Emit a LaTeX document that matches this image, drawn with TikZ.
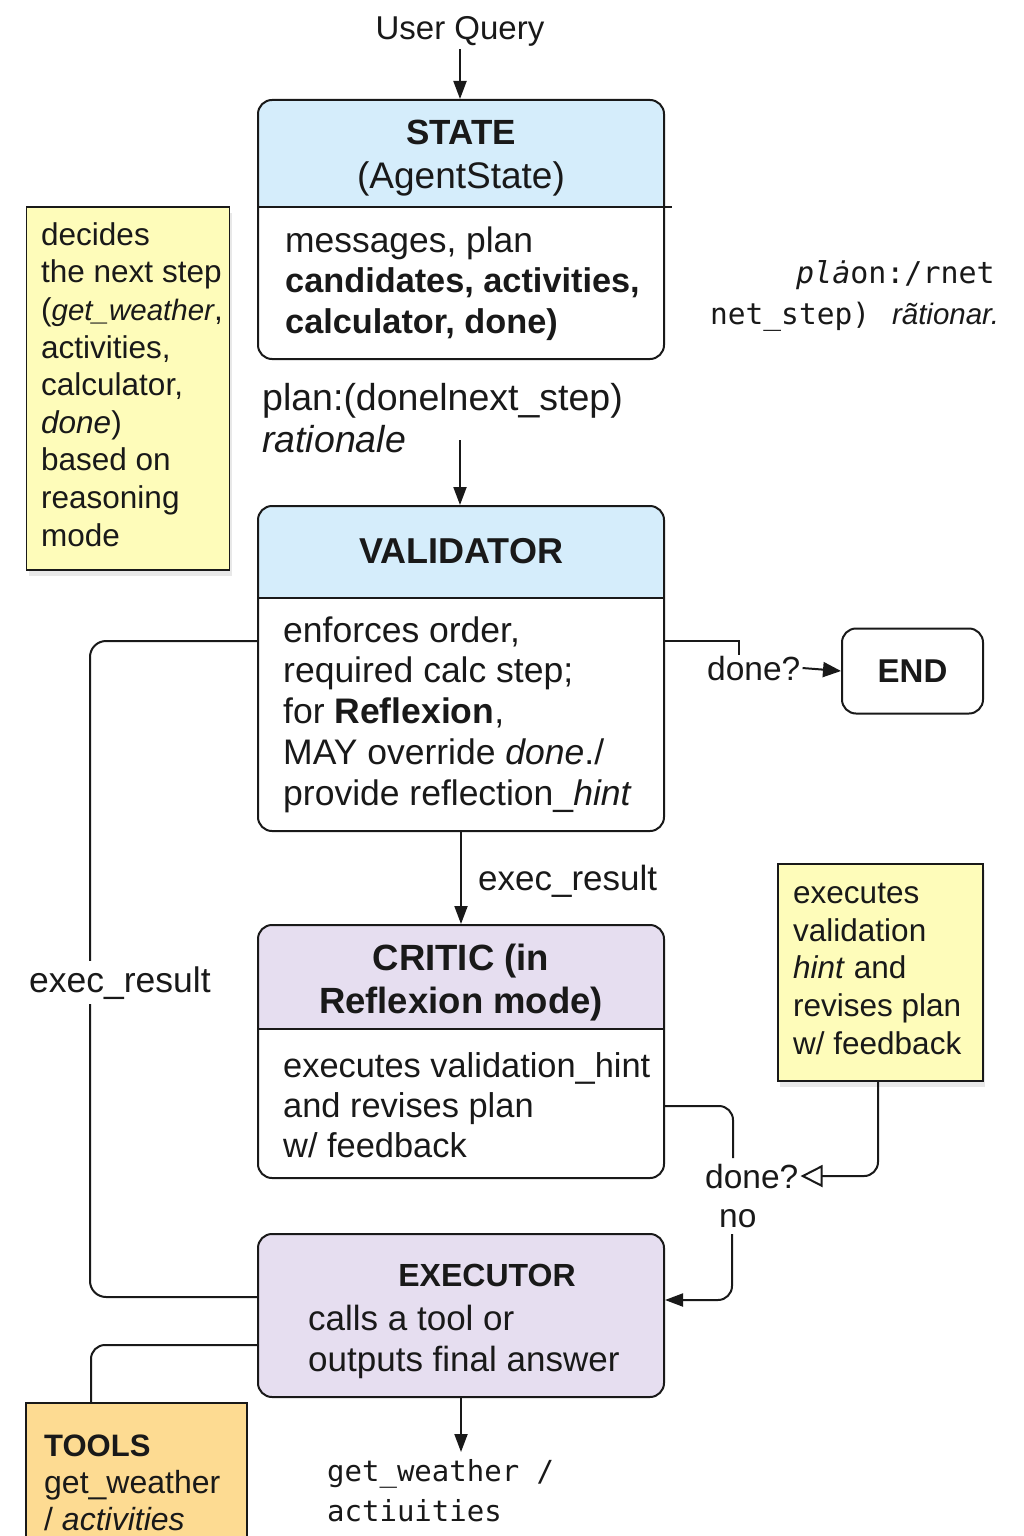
\documentclass[tikz,border=0pt]{standalone}
\usepackage{fontspec}
\setmainfont{Liberation Sans}
\setmonofont{DejaVu Sans Mono}
\usetikzlibrary{arrows.meta,shadows}
\definecolor{hdrblue}{RGB}{213,237,251}
\definecolor{lav}{RGB}{230,222,240}
\definecolor{noteyel}{RGB}{254,252,186}
\definecolor{toolor}{RGB}{253,219,146}
\definecolor{ink}{RGB}{25,25,25}
\newcommand\lnstrut[1]{\rule{0pt}{#1pt}}
\begin{document}
\begin{tikzpicture}[x=1pt,y=-1pt,
  box/.style={draw=ink,line width=2pt,rounded corners=14pt,minimum width=406pt,inner sep=0pt},
  note/.style={draw=ink,line width=1.5pt,fill=noteyel,inner sep=0pt,
    drop shadow={shadow xshift=2pt,shadow yshift=-6pt,opacity=0.09,fill=black}},
  line/.style={draw=ink,line width=2pt},
  arr/.style={line,-{Triangle[length=18pt,width=13pt]}},
  openarr/.style={line,-{Triangle[open,length=22pt,width=22pt,line width=2pt]}},
  txt/.style={inner sep=0pt,anchor=north west,align=left,text=ink},
  lbl/.style={inner sep=2pt,anchor=base west,text=ink},
  ttl/.style={inner sep=0pt,anchor=base,text=ink,font={\bfseries\fontsize{35}{40}\selectfont}},
  notefont/.style={font={\fontsize{31.5}{37.6}\selectfont}}
]
\fill[white] (0,0) rectangle (1024,1536);
\useasboundingbox (0,0) rectangle (1024,1536);

% header fills
\begin{scope}
  \clip[rounded corners=14pt] (258,100) rectangle (664,359);
  \fill[hdrblue] (258,100) rectangle (664,207);
\end{scope}
\begin{scope}
  \clip[rounded corners=14pt] (258,506) rectangle (664,831);
  \fill[hdrblue] (258,506) rectangle (664,598);
\end{scope}
\begin{scope}
  \clip[rounded corners=14pt] (258,925) rectangle (664,1178);
  \fill[lav] (258,925) rectangle (664,1029);
\end{scope}

% boxes
\node[box,minimum height=259pt] (state) at (461,229.5) {};
\node[box,minimum height=325pt] (validator) at (461,668.5) {};
\node[box,minimum height=253pt] (critic) at (461,1051.5) {};
\node[box,fill=lav,minimum height=163pt] (executor) at (461,1315.5) {};
\node[box,minimum width=141pt,minimum height=85pt,text=ink,
      font={\bfseries\fontsize{33}{36}\selectfont}] (endn) at (912.5,671) {END};
\node[note,minimum width=203pt,minimum height=363pt] (note1) at (128,388.5) {};
\node[note,minimum width=205pt,minimum height=217pt] (note2) at (880.5,972.5) {};
\node[draw=ink,line width=1.5pt,fill=toolor,inner sep=0pt,minimum width=221pt,minimum height=160pt] (tools) at (136.5,1483) {};

% dividers
\draw[line] (258,207) -- (672,207);
\draw[line] (258,598) -- (664,598);
\draw[line] (258,1029) -- (664,1029);

% box texts
\node[ttl] (stT1) at (461,145) {STATE};
\node[ttl,font={\fontsize{37}{40}\selectfont}] (stT2) at (461,188) {(AgentState)};
\node[txt,font={\fontsize{35.4}{40.7}\selectfont}] (stB) at (285,222) {\lnstrut{30}messages, plan\\
  {\bfseries\fontsize{34.3}{40.7}\selectfont candidates, activities,}\\
  {\bfseries\fontsize{34.3}{40.7}\selectfont calculator, done)}};

\node[ttl,font={\bfseries\fontsize{36}{40}\selectfont}] (vT) at (461,563) {VALIDATOR};
\node[txt,font={\fontsize{35.5}{40.7}\selectfont}] (vB) at (283,612) {\lnstrut{30}enforces order,\\
  required calc step;\\
  for \textbf{Reflexion},\\
  MAY override \textit{done}./\\
  provide reflection\_\textit{hint}};

\node[ttl,font={\bfseries\fontsize{36.5}{40}\selectfont}] (cT1) at (461,970) {CRITIC (in};
\node[ttl,font={\bfseries\fontsize{36.5}{40}\selectfont}] (cT2) at (461,1013) {Reflexion mode)};
\node[txt,font={\fontsize{34.4}{40}\selectfont}] (cB) at (283,1047) {\lnstrut{30}executes validation\_hint\\
  and revises plan\\
  w/ feedback};

\node[ttl,font={\bfseries\fontsize{32}{40}\selectfont}] (eT) at (487,1286) {EXECUTOR};
\node[txt,font={\fontsize{35}{41}\selectfont}] (eB) at (308,1300) {\lnstrut{30}calls a tool or\\
  outputs final answer};

\node[txt,notefont] (n1T) at (41,217) {\lnstrut{28}decides\\
  the next step\\
  ({\fontsize{29.5}{37.6}\selectfont\itshape get\_weather},\\
  activities,\\
  calculator,\\
  \textit{done})\\
  based on\\
  reasoning\\
  mode};

\node[txt,font={\fontsize{31.5}{37.8}\selectfont}] (n2T) at (793,875) {\lnstrut{28}executes\\
  validation\\
  \textit{hint} and\\
  revises plan\\
  w/ feedback};

\node[txt,font={\fontsize{32}{37}\selectfont}] (tT) at (44,1428) {\lnstrut{28}{\bfseries\fontsize{31}{37}\selectfont TOOLS}\\
  get\_weather\\
  / \textit{activities}};

% free labels
\node[lbl,anchor=base,font={\fontsize{33}{38}\selectfont}] (uq) at (460,40) {User Query};
\node[txt,font={\fontsize{37.5}{42}\selectfont}] (pl) at (262,380) {\lnstrut{30}plan:(donelnext\_step)\\
  \textit{rationale}};
\node[lbl,anchor=base east,font={\fontsize{30}{36}\selectfont}] (rt1) at (997,283)
  {{\ttfamily\itshape plȧ}{\ttfamily on:/rnet}};
\node[lbl,font={\fontsize{29.5}{36}\selectfont}] (rt2) at (708,324)
  {{\ttfamily net\_step)}\hspace{22pt}\textit{rãtionar.}};
\node[lbl,font={\fontsize{35}{40}\selectfont}] (er1) at (476,890) {exec\_result};
\node[lbl,font={\fontsize{33.5}{40}\selectfont}] (d1) at (705,680) {done?};
\node[lbl,font={\fontsize{33.5}{40}\selectfont}] (d2) at (703,1188) {done?};
\node[lbl,font={\fontsize{33.5}{40}\selectfont}] (nno) at (717,1227) {no};
\node[txt,font={\ttfamily\fontsize{29}{40}\selectfont}] (gl) at (327,1455) {\lnstrut{26}get\_weather /\\
  actiuities};

\coordinate (planEnd) at (460,440);
\coordinate (noTop) at (732,1234);
\coordinate (gwEnd) at (461,1452);

% connectors
\draw[arr] (uq.south) -- (uq.south |- state.north);
\draw[arr] (planEnd) -- (planEnd |- validator.north);
\draw[arr] (validator.south) -- (critic.north);
\draw[arr] (executor.south) -- (gwEnd);

% left loop executor <-> validator
\draw[line,rounded corners=16pt] ([yshift=27.5pt]validator.west) -- ++(-167,0) |- ([yshift=18.5pt]executor.west);
\node[lbl,fill=white,inner xsep=1pt,inner ysep=5pt,font={\fontsize{35.5}{40}\selectfont}] (er2) at (28,992) {exec\_result};

% validator -> done? -> END
\draw[line] ([yshift=27.5pt]validator.east) -- ++(74,0) -- ++(0,14);
\draw[line,-{Triangle[length=18pt,width=15pt]}] (d1.east) -- (endn.west);

% critic -> done? / no -> executor
\draw[line,rounded corners=14pt] ([yshift=-54.5pt]critic.east) -- ++(68,0) -- ++(0,52);
\draw[arr,rounded corners=14pt] (noTop) |- ([yshift=15.5pt]executor.east);

% note2 -> done?
\draw[openarr,rounded corners=14pt] ([xshift=-2.5pt]note2.south) |- (d2.east);

% executor -> tools
\draw[line,rounded corners=14pt] ([yshift=-29.5pt]executor.west) -| ([xshift=-45.5pt]tools.north);
\end{tikzpicture}
\end{document}
